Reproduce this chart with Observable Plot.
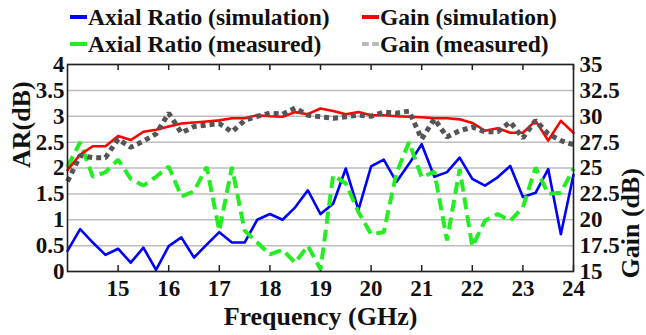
<!DOCTYPE html>
<html><head><meta charset="utf-8">
<script src="https://cdn.jsdelivr.net/npm/d3@7"></script>
<script src="https://cdn.jsdelivr.net/npm/@observablehq/plot@0.6"></script>
<style>
body{margin:0;background:#fff;}
#wrap{position:relative;width:646px;height:335px;font-family:'Liberation Serif','Times New Roman',Tinos,'DejaVu Serif',serif;font-weight:bold;color:#111;}
.leg{position:absolute;font-size:23.5px;line-height:24px;white-space:nowrap;}
.sw{position:absolute;width:17px;height:0;}
#chart svg{position:absolute;left:0;top:0;}
</style></head><body><div id="wrap"><div id="chart"></div></div>
<script>
const freq = [14,14.25,14.5,14.75,15,15.25,15.5,15.75,16,16.25,16.5,16.75,17,17.25,17.5,17.75,18,18.25,18.5,18.75,19,19.25,19.5,19.75,20,20.25,20.5,20.75,21,21.25,21.5,21.75,22,22.25,22.5,22.75,23,23.25,23.5,23.75,24];
const arSim = [0.40,0.82,0.56,0.32,0.44,0.17,0.46,0.03,0.49,0.66,0.27,0.52,0.76,0.56,0.56,1.00,1.11,1.00,1.24,1.57,1.11,1.31,1.99,1.19,2.03,2.16,1.73,2.08,2.46,1.83,1.92,2.20,1.79,1.66,1.82,2.04,1.44,1.52,1.98,0.72,1.87];
const arMeas = [2.02,2.50,1.83,1.92,2.16,1.79,1.66,1.83,2.03,1.45,1.55,2.02,0.79,2.02,0.79,0.56,0.33,0.42,0.17,0.50,0.04,1.86,1.70,1.15,0.72,0.76,1.90,2.50,1.82,1.93,0.60,1.98,0.48,0.98,1.11,0.98,1.24,2.01,1.50,1.52,1.99];
const gainSim = [24.8,26.3,27.1,27.1,28.1,27.7,28.5,28.7,29.0,29.3,29.4,29.5,29.6,29.8,29.8,30.1,30.0,29.95,30.4,30.2,30.75,30.5,30.2,30.4,30.1,30.1,30.0,29.95,29.9,29.8,29.8,29.7,29.35,28.6,28.85,28.4,28.4,29.55,27.65,29.55,28.4];
const gainMeas = [23.7,26.2,26.0,26.0,27.8,27.0,27.6,28.3,30.3,28.4,29.0,29.15,29.3,28.5,29.6,30.0,30.3,30.2,30.8,30.1,29.95,29.8,29.95,30.1,30.0,30.4,30.3,30.5,27.8,29.75,28.0,28.6,28.95,28.5,28.5,29.45,27.9,29.6,28.3,27.65,27.25];
const freqTicks = [15,16,17,18,19,20,21,22,23,24];
const arTicks = [0,0.5,1,1.5,2,2.5,3,3.5,4];
const gainTicks = ["15","17.5","20","22.5","25","27.5","30","32.5","35"];
const legendItems = [
  {label:"Axial Ratio (simulation)", color:"#0000ff", style:"solid", col:0, row:0},
  {label:"Gain (simulation)", color:"#ff0000", style:"solid", col:1, row:0},
  {label:"Axial Ratio (measured)", color:"#22ee22", style:"solid", col:0, row:1},
  {label:"Gain (measured)", color:"#bbbbbb", style:"dashed", col:1, row:1}
];

const W = 646, H = 335, mT = 64, mB = 64, mL = 67, mR = 73;
const fw = W - mL - mR, fh = H - mT - mB;
const toAR = g => (g - 15) / 5; // right axis (15..35 dB) onto left axis (0..4)
const rows = freq.map((f, i) => ({f, arSim: arSim[i], arMeas: arMeas[i], gSim: toAR(gainSim[i]), gMeas: toAR(gainMeas[i])}));
const font = "'Liberation Serif','Times New Roman',Tinos,'DejaVu Serif',serif";

const chart = Plot.plot({
  width: W, height: H, marginTop: mT, marginBottom: mB, marginLeft: mL, marginRight: mR,
  x: {domain: [14, 24]},
  y: {domain: [0, 4]},
  style: {fontFamily: font, fontWeight: "bold", fontSize: "23px", color: "#111", background: "transparent"},
  marks: [
    Plot.gridY(arTicks, {stroke: "#bdbdbd", strokeOpacity: 1, strokeWidth: 1.5}),
    Plot.ruleX(freqTicks, {x: d => d, insetTop: fh - 6, stroke: "#222", strokeWidth: 1.5}),
    Plot.ruleX(freqTicks, {x: d => d, insetBottom: fh - 6, stroke: "#222", strokeWidth: 1.5}),
    Plot.lineY(rows, {x: "f", y: "arSim", stroke: "#0000ff", strokeWidth: 2.6}),
    Plot.lineY(rows, {x: "f", y: "arMeas", stroke: "#22ee22", strokeWidth: 4, strokeDasharray: "12,6", strokeLinecap: "butt", strokeLinejoin: "miter"}),
    Plot.lineY(rows, {x: "f", y: "gSim", stroke: "#ff0000", strokeWidth: 2.6}),
    Plot.lineY(rows, {x: "f", y: "gMeas", stroke: "#555555", strokeWidth: 5, strokeDasharray: "5,4", strokeLinecap: "butt", strokeLinejoin: "miter"}),
    Plot.frame({stroke: "#222", strokeWidth: 1.6}),
    Plot.axisX(freqTicks, {anchor: "bottom", tickSize: 0, tickPadding: 8, label: null, fontSize: 23}),
    Plot.axisY(arTicks, {anchor: "left", tickSize: 0, tickPadding: 3, label: null, fontSize: 23, tickFormat: d => String(d)}),
    Plot.axisY(arTicks, {anchor: "right", tickSize: 0, tickPadding: 6, label: null, fontSize: 23, tickFormat: (d, i) => gainTicks[arTicks.indexOf(d)]}),
    Plot.text(["Frequency (GHz)"], {text: d => d, frameAnchor: "bottom", dy: 53, fontSize: 26, fontWeight: "bold"}),
    Plot.text(["AR(dB)"], {text: d => d, frameAnchor: "left", dx: -46, rotate: -90, fontSize: 26, fontWeight: "bold"}),
    Plot.text(["Gain (dB)"], {text: d => d, frameAnchor: "right", dx: 57, rotate: -90, fontSize: 26, fontWeight: "bold"})
  ]
});
document.getElementById("chart").appendChild(chart);

const wrap = document.getElementById("wrap");
const colX = [70, 362], rowY = [17, 44];
for (const it of legendItems) {
  const sw = document.createElement("div");
  sw.className = "sw";
  sw.style.left = colX[it.col] + "px";
  sw.style.top = (rowY[it.row] - 2) + "px";
  sw.style.borderTop = `4px ${it.style} ${it.color}`;
  wrap.appendChild(sw);
  const t = document.createElement("div");
  t.className = "leg";
  t.textContent = it.label;
  t.style.left = (colX[it.col] + 18) + "px";
  t.style.top = (rowY[it.row] - 12) + "px";
  wrap.appendChild(t);
}
</script></body></html>
